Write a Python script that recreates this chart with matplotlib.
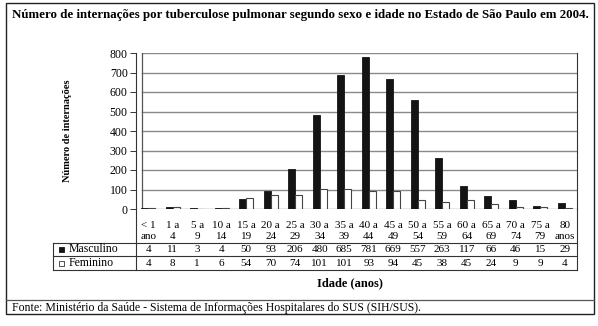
import matplotlib
matplotlib.use('Agg')
import matplotlib.pyplot as plt
from matplotlib import transforms
from matplotlib.patches import Rectangle

plt.rcParams['font.family'] = ['Liberation Serif', 'DejaVu Serif']

# age groups (two lines in the data table)
age_top = ['< 1', '1 a', '5 a', '10 a', '15 a', '20 a', '25 a', '30 a', '35 a',
           '40 a', '45 a', '50 a', '55 a', '60 a', '65 a', '70 a', '75 a', '80']
age_bottom = ['ano', '4', '9', '14', '19', '24', '29', '34', '39',
              '44', '49', '54', '59', '64', '69', '74', '79', 'anos']
masculino = [4, 11, 3, 4, 50, 93, 206, 480, 685, 781, 669, 557, 263, 117, 66, 46, 15, 29]
feminino = [4, 8, 1, 6, 54, 70, 74, 101, 101, 93, 94, 45, 38, 45, 24, 9, 9, 4]
yticks = [0, 100, 200, 300, 400, 500, 600, 700, 800]

W, H = 598, 326
fig = plt.figure(figsize=(W / 100, H / 100), dpi=100)

# overlay in pixel coordinates for frame, title, table rows
over = fig.add_axes([0, 0, 1, 1])
over.set_xlim(0, W)
over.set_ylim(H, 0)
over.axis('off')

# plot area (px)
pl, pr, pt, pb = 136, 577, 53, 209
ax = fig.add_axes([pl / W, 1 - pb / H, (pr - pl) / W, (pb - pt) / H])
n = len(masculino)
ax.set_xlim(0, n)
ax.set_ylim(0, 800)

wall = 0.25
bw = 0.29
xs = [i + 0.5 for i in range(n)]
for y in yticks:
    ax.plot([wall, n], [y, y], color='#8a8a8a', lw=1.0, zorder=1)
ax.plot([wall, wall], [0, 800], color='#555555', lw=0.9, zorder=1)
ax.bar([x - bw / 2 for x in xs], masculino, width=bw, color='#141414',
       edgecolor='#141414', lw=0.6, zorder=3)
ax.bar([x + bw / 2 for x in xs], feminino, width=bw, color='white',
       edgecolor='#444444', lw=0.8, zorder=3)

for s in ['top', 'bottom']:
    ax.spines[s].set_visible(False)
ax.spines['left'].set_color('#333333')
ax.spines['right'].set_color('#333333')
ax.set_yticks(yticks)
ax.set_yticklabels([str(v) for v in yticks], fontsize=8.5)
ax.tick_params(axis='y', direction='out', length=4, width=0.7, color='#333333', pad=2)
ax.set_xticks([])
ax.patch.set_alpha(0)

ax.set_ylabel('Número de internações', fontsize=7.5, fontweight='bold')
ax.yaxis.set_label_coords(-0.145, 0.5)

# data table below the plot
tr = transforms.blended_transform_factory(ax.transData, over.transData)
row1, row2, row3 = 243, 256, 270
tab_left = 53
over.plot([pl, pl], [pb, row3], color='#333333', lw=0.8)
over.plot([pr, pr], [pb, row3], color='#333333', lw=0.8)
over.plot([tab_left, tab_left], [row1, row3], color='#333333', lw=0.8)
for y in [row1, row2, row3]:
    over.plot([tab_left, pr], [y, y], color='#333333', lw=0.8)

fs = 8
for i, x in enumerate(xs):
    over.text(x, 225, age_top[i], transform=tr, ha='center', va='center', fontsize=fs)
    over.text(x, 236.5, age_bottom[i], transform=tr, ha='center', va='center', fontsize=fs)
    over.text(x, 249.5, str(masculino[i]), transform=tr, ha='center', va='center', fontsize=fs)
    over.text(x, 263, str(feminino[i]), transform=tr, ha='center', va='center', fontsize=fs)

over.add_patch(Rectangle((59, 247), 5, 5, facecolor='#141414', edgecolor='#141414', lw=0.6))
over.add_patch(Rectangle((59, 260.5), 5, 5, facecolor='white', edgecolor='#333333', lw=0.6))
over.text(69, 249, 'Masculino', ha='left', va='center', fontsize=8.5)
over.text(69, 262.5, 'Feminino', ha='left', va='center', fontsize=8.5)

over.text(350, 283, 'Idade (anos)', ha='center', va='center',
          fontsize=9, fontweight='bold')

# outer frame, title, footer
over.add_patch(Rectangle((6, 3), 588, 311, facecolor='none', edgecolor='#222222', lw=1.0))
over.plot([6, 594], [300, 300], color='#555555', lw=0.9)
over.text(12, 15, 'Número de internações por tuberculose pulmonar segundo sexo e idade '
          'no Estado de São Paulo em 2004.', ha='left', va='center',
          fontsize=9.3, fontweight='bold')
over.text(12, 308, 'Fonte: Ministério da Saúde - Sistema de Informações Hospitalares '
          'do SUS (SIH/SUS).', ha='left', va='center', fontsize=8.5)

fig.savefig('out.png', dpi=100)
